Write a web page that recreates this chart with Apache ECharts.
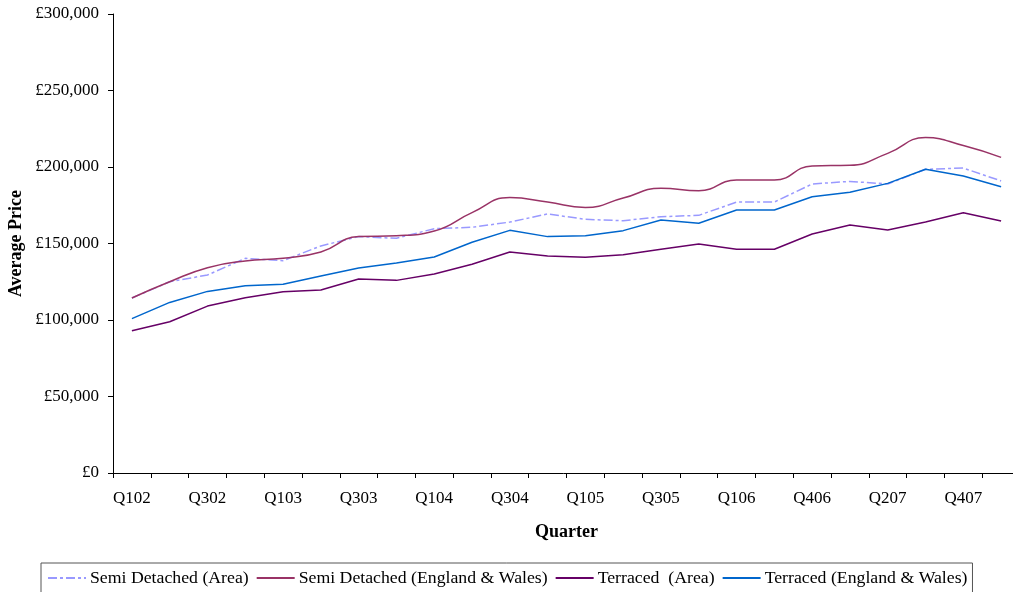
<!DOCTYPE html>
<html>
<head>
<meta charset="utf-8">
<script src="https://cdn.jsdelivr.net/npm/echarts@6/dist/echarts.min.js"></script>
<style>
  html, body { margin: 0; padding: 0; background: #fff; }
  #chart { width: 1013px; height: 592px; }
</style>
</head>
<body>
<div id="chart"></div>
<script>
// Quarterly average prices, 2002 to early 2008
var quarters = ['Q102','Q202','Q302','Q402','Q103','Q203','Q303','Q403',
                'Q104','Q204','Q304','Q404','Q105','Q205','Q305','Q405',
                'Q106','Q206','Q406','Q107','Q207','Q307','Q407','Q108'];

var semiArea = [114400,125000,129400,140300,138800,148400,154500,153400,
                159700,160600,164000,169300,165800,164900,167500,168400,
                177100,177100,188900,190600,188900,198500,199300,190900];

var semiEW = [114400,125000,134200,138600,140300,144400,154500,155100,
              158200,170200,180000,177100,173600,179700,186100,184500,
              191500,191500,200700,201100,208900,219200,214000,206300];

var terrArea = [93000,98900,109100,114600,118500,119600,126800,125900,
                130100,136400,144400,141800,141000,142700,146200,149700,
                146200,146200,156200,162100,158800,164100,170100,164700];

var terrEW = [100900,111500,118700,122400,123300,128800,134000,137300,
              141200,150800,158600,154500,155100,158400,165400,163200,
              171900,171900,180600,183500,189300,198500,194100,187100];

var yTicks = { min: 0, max: 300000, step: 50000 };

var FONT = '"Liberation Serif", "Times New Roman", serif';

function fmtPound(v) {
  return '\u00A3' + String(v).replace(/\B(?=(\d{3})+(?!\d))/g, ',');
}

var chart = echarts.init(document.getElementById('chart'), null, { renderer: 'canvas' });

chart.setOption({
  animation: false,
  backgroundColor: '#ffffff',
  textStyle: { fontFamily: FONT, color: '#000' },
  grid: {
    left: 113, top: 14, width: 907, height: 459,
    containLabel: false,
    outerBoundsMode: 'none'
  },
  legend: {
    left: 41,
    top: 563,
    orient: 'horizontal',
    padding: [6, 5, 10, 6],
    itemGap: 7,
    itemWidth: 38,
    itemHeight: 10,
    itemStyle: { opacity: 0 },
    borderColor: '#555',
    borderWidth: 1,
    textStyle: { fontFamily: FONT, fontSize: 17.75, color: '#000', padding: [0, 0, 0, -1] },
    data: ['Semi Detached (Area)', 'Semi Detached (England & Wales)',
           'Terraced  (Area)', 'Terraced (England & Wales)']
  },
  xAxis: {
    type: 'category',
    data: quarters,
    boundaryGap: true,
    name: 'Quarter',
    nameLocation: 'middle',
    nameGap: 50,
    nameTextStyle: { fontFamily: FONT, fontSize: 18, fontWeight: 'bold', color: '#000' },
    axisLine: { lineStyle: { color: '#000', width: 1 } },
    axisTick: { show: true, interval: 0, length: 5, lineStyle: { color: '#000' } },
    axisLabel: { interval: 1, margin: 17, fontFamily: FONT, fontSize: 17, color: '#000' },
    splitLine: { show: false }
  },
  yAxis: {
    type: 'value',
    min: yTicks.min,
    max: yTicks.max,
    interval: yTicks.step,
    name: 'Average Price',
    nameLocation: 'middle',
    nameGap: 88,
    nameMoveOverlap: false,
    nameRotate: 90,
    nameTextStyle: { fontFamily: FONT, fontSize: 18, fontWeight: 'bold', color: '#000' },
    axisLine: { show: true, lineStyle: { color: '#000', width: 1 } },
    axisTick: { show: true, length: 5, lineStyle: { color: '#000' } },
    axisLabel: { margin: 14, fontFamily: FONT, fontSize: 17, color: '#000', formatter: fmtPound },
    splitLine: { show: false }
  },
  series: [
    {
      name: 'Semi Detached (Area)',
      type: 'line',
      data: semiArea,
      symbol: 'none',
      color: '#9999FF',
      lineStyle: { color: '#9999FF', width: 1.5, type: [9, 3, 3, 3] }
    },
    {
      name: 'Semi Detached (England & Wales)',
      type: 'line',
      data: semiEW,
      symbol: 'none',
      smooth: 0.5,
      color: '#993366',
      lineStyle: { color: '#993366', width: 1.5 }
    },
    {
      name: 'Terraced  (Area)',
      type: 'line',
      data: terrArea,
      symbol: 'none',
      color: '#660066',
      lineStyle: { color: '#660066', width: 1.5 }
    },
    {
      name: 'Terraced (England & Wales)',
      type: 'line',
      data: terrEW,
      symbol: 'none',
      color: '#0066CC',
      lineStyle: { color: '#0066CC', width: 1.5 }
    }
  ]
});
</script>
</body>
</html>
